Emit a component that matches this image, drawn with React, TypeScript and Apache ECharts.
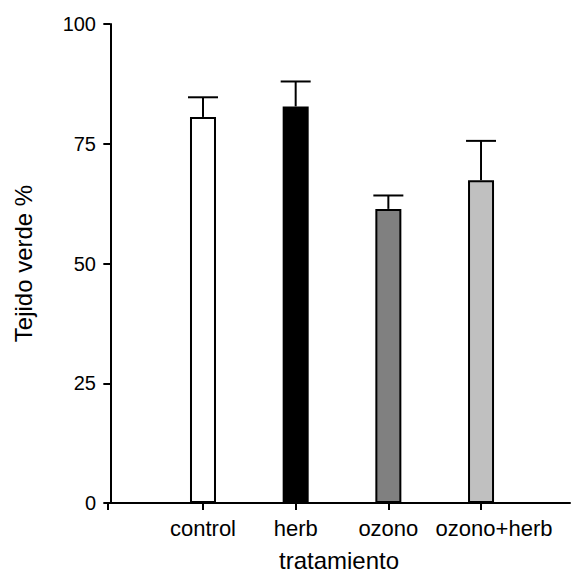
import React, { useEffect, useRef } from "react";
import * as echarts from "echarts";

const categories = ["control", "herb", "ozono", "ozono+herb"];
const means = [80.6, 82.8, 61.4, 67.4];
const errors = [4.1, 5.2, 2.8, 8.2];
const barColors = ["#ffffff", "#000000", "#808080", "#c0c0c0"];
const yTicks = [0, 25, 50, 75, 100];

const FONT = "Liberation Sans, Arial, sans-serif";
const X_MIN = -0.025;

export default function App() {
  const ref = useRef<HTMLDivElement>(null);
  useEffect(() => {
    if (!ref.current) return;
    const chart = echarts.init(ref.current, undefined, { renderer: "svg" });
    const positions = categories.map((_, i) => i + 1);
    chart.setOption({
      animation: false,
      backgroundColor: "#ffffff",
      grid: { left: 108, right: 2, top: 24, bottom: 69, containLabel: false },
      xAxis: {
        type: "value",
        min: X_MIN,
        max: 4.96,
        name: "tratamiento",
        nameLocation: "middle",
        nameGap: 45,
        nameTextStyle: { color: "#000", fontSize: 24, fontFamily: FONT },
        splitLine: { show: false },
        axisLine: { show: true, lineStyle: { color: "#000", width: 2 } },
        axisTick: {
          show: true,
          customValues: [X_MIN, 1, 2, 3, 4],
          length: 7,
          inside: false,
          lineStyle: { color: "#000", width: 2 },
        },
        axisLabel: {
          customValues: [1, 2, 3, 4],
          formatter: (v: number) => {
            const i = Math.round(v) - 1;
            const name = categories[i] ?? "";
            return i === categories.length - 1 ? `{s|${name}}` : name;
          },
          rich: {
            s: { fontSize: 22, fontFamily: FONT, color: "#000", padding: [0, 0, 0, 26] },
          },
          color: "#000",
          fontSize: 22,
          fontFamily: FONT,
          margin: 14,
        },
      },
      yAxis: {
        type: "value",
        min: 0,
        max: 100,
        interval: 25,
        name: "Tejido verde %",
        nameLocation: "middle",
        nameGap: 73,
        nameTextStyle: { color: "#000", fontSize: 24, fontFamily: FONT },
        splitLine: { show: false },
        axisLine: { show: true, lineStyle: { color: "#000", width: 2 } },
        axisTick: { show: true, length: 7, lineStyle: { color: "#000", width: 2 } },
        axisLabel: {
          color: "#000",
          fontSize: 20,
          fontFamily: FONT,
          margin: 12,
          formatter: (v: number) => (yTicks.includes(v) ? String(v) : ""),
        },
      },
      series: [
        {
          type: "bar",
          barWidth: 26,
          data: means.map((m, i) => ({
            value: [positions[i], m],
            itemStyle: { color: barColors[i], borderColor: "#000", borderWidth: 2 },
          })),
          z: 2,
        },
        {
          type: "custom",
          z: 3,
          data: means.map((m, i) => [positions[i], m, m + errors[i]]),
          renderItem: (params: any, api: any) => {
            const x = api.value(0);
            const base = api.coord([x, api.value(1)]);
            const top = api.coord([x, api.value(2)]);
            const half = 15;
            return {
              type: "group",
              children: [
                {
                  type: "line",
                  shape: { x1: base[0], y1: base[1], x2: top[0], y2: top[1] },
                  style: { stroke: "#000", lineWidth: 2 },
                },
                {
                  type: "line",
                  shape: { x1: top[0] - half, y1: top[1], x2: top[0] + half, y2: top[1] },
                  style: { stroke: "#000", lineWidth: 2 },
                },
              ],
            };
          },
        },
      ],
    });
    return () => chart.dispose();
  }, []);
  return (
    <div
      ref={ref}
      style={{ position: "fixed", left: 0, top: 0, width: 572, height: 577 }}
    />
  );
}
